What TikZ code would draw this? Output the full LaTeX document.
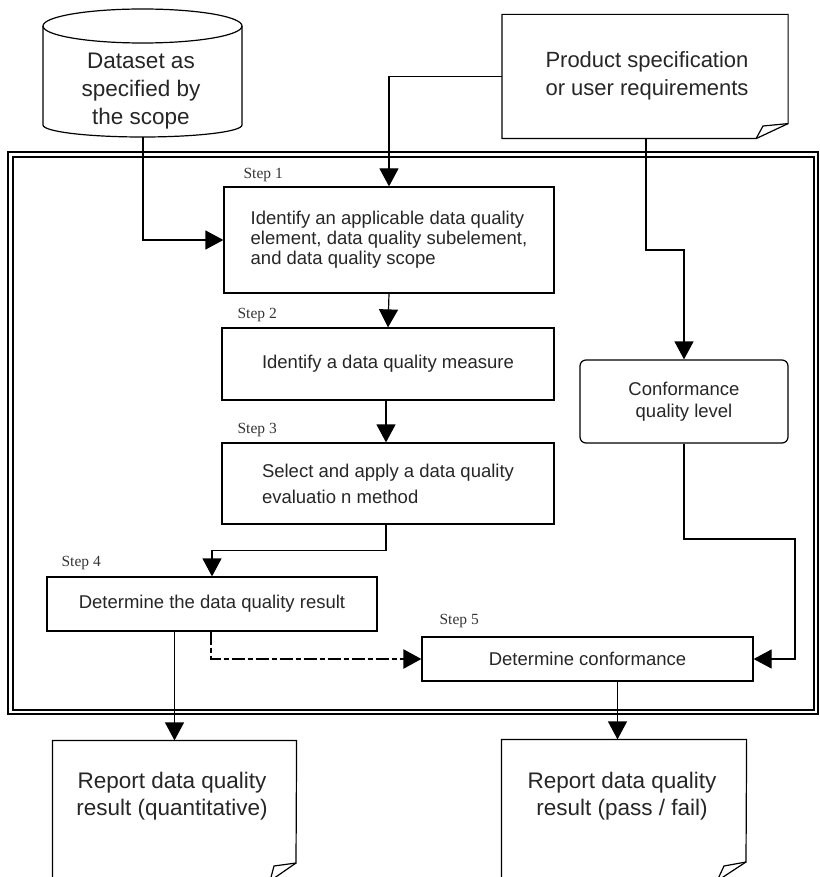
\documentclass[tikz,border=0pt]{standalone}
\usepackage{fontspec}
\setmainfont{Liberation Sans}
\newfontfamily\stepfont{Liberation Serif}
\usetikzlibrary{arrows.meta}
\begin{document}
\begin{tikzpicture}[x=1pt,y=1pt,
  line width=1.2pt,
  arr/.style={-{Triangle[length=18pt,width=19pt]}},
  dashdot/.style={line width=2.3pt, dash pattern=on 13pt off 3pt on 5pt off 3pt},
  stepbox/.style={draw, inner sep=0pt, font=\fontsize{18.5}{20}\selectfont, text=black!85, align=left},
  steplabel/.style={anchor=west, inner sep=0pt, font=\stepfont\fontsize{15.5}{16}\selectfont, text=black!80},
  bigtext/.style={inner sep=0pt, align=center, text=black!85, font=\fontsize{22.5}{28}\selectfont},
  shapebox/.style={inner sep=0pt},
  frameline/.style={line width=1.3pt}
]
\useasboundingbox (0,0) rectangle (819,-877);

% outer double frame
\draw[frameline] (8,-152) rectangle (818,-714);
\draw[frameline] (13,-157) rectangle (814,-710);

% cylinder: dataset
\draw[fill=white] (43,-26) -- (43,-125) arc[start angle=180, end angle=360, x radius=99.5, y radius=12] -- (242,-26);
\draw (142.5,-26) ellipse [x radius=99.5, y radius=17];
\node[bigtext] (cyl) at (141,-91) {Dataset as\\specified by\\the scope};
\coordinate (cylb) at (143,-137);

% product specification document
\node[shapebox, minimum width=285pt, minimum height=123pt] (spec) at (645,-76.5) {};
\draw (spec.south west) -- (spec.north west) -- (spec.north east) -- ([yshift=15pt]spec.south east)
      -- (763,-126) -- ([xshift=-32pt]spec.south east) -- cycle;
\draw ([yshift=15pt]spec.south east) -- ([xshift=-32pt]spec.south east);
\node[bigtext, font=\fontsize{22}{28}\selectfont] (spect) at (647,-76) {Product specification\\or user requirements};

% steps
\node[stepbox, minimum width=330pt, minimum height=106pt] (s1) at (389,-240)
  {Identify an applicable data quality\\element, data quality subelement,\\and data quality scope};
\node[steplabel] (l1) at (243,-175) {Step 1};

\node[stepbox, minimum width=332pt, minimum height=72pt] (s2) at (388,-364)
  {Identify a data quality measure};
\node[steplabel] (l2) at (237,-315) {Step 2};

\node[stepbox, minimum width=332pt, minimum height=81pt, font=\fontsize{18.5}{26}\selectfont] (s3) at (388,-483.5)
  {Select and apply a data quality\\evaluatio n method};
\node[steplabel] (l3) at (237,-430) {Step 3};

\node[stepbox, minimum width=330pt, minimum height=54pt] (s4) at (212,-604)
  {Determine the data quality result};
\node[steplabel] (l4) at (61,-563) {Step 4};

\node[stepbox, minimum width=331pt, minimum height=44pt] (s5) at (587.5,-659)
  {Determine conformance};
\node[steplabel] (l5) at (439,-621) {Step 5};

% conformance quality level
\node[stepbox, align=center, rounded corners=6pt, minimum width=208pt, minimum height=83pt,
      font=\fontsize{18.5}{22}\selectfont] (conf) at (684,-401.5)
  {Conformance\\quality level};

% report documents
\node[shapebox, minimum width=243pt, minimum height=140pt] (doc1) at (174.5,-811) {};
\draw (doc1.south west) -- (doc1.north west) -- (doc1.north east) -- (296,-863)
      -- (274,-866) -- (270,-881);
\draw (296,-863) -- (270,-881);
\node[bigtext, font=\fontsize{22.5}{27}\selectfont] (doc1t) at (172,-796.5) {Report data quality\\result (quantitative)};

\node[shapebox, minimum width=244pt, minimum height=140pt] (doc2) at (624,-810) {};
\draw (doc2.south west) -- (doc2.north west) -- (doc2.north east) -- (746,-862)
      -- (724,-866) -- (717,-881);
\draw (746,-862) -- (717,-881);
\node[bigtext, font=\fontsize{22.5}{27}\selectfont] (doc2t) at (622,-796.5) {Report data quality\\result (pass / fail)};

% connectors
\draw[arr] (cylb) |- (s1.west);
\draw[arr] (spec.west) -| (s1.north);
\draw[arr] (s1.south) -- (s2.north);
\draw[arr] ([xshift=-2pt]s2.south) -- ([xshift=-2pt]s3.north);
\draw[arr] ([xshift=-2pt]s3.south) -- ++(0,-26) -| (s4.north);
\coordinate (k0) at (646,-250);
\draw[arr] ([xshift=1pt]spec.south) |- (k0) -| (conf.north);
\coordinate (k1) at (795,-539);
\draw[arr] (conf.south) |- (k1) |- (s5.east);
\draw[arr, dashdot] ([xshift=-1pt]s4.south) |- (s5.west);
\draw[arr] (doc1.north |- s4.south) -- (doc1.north);
\draw[arr] ([xshift=30pt]s5.south) -- ([xshift=30pt]s5.south |- doc2.north);
\end{tikzpicture}
\end{document}
